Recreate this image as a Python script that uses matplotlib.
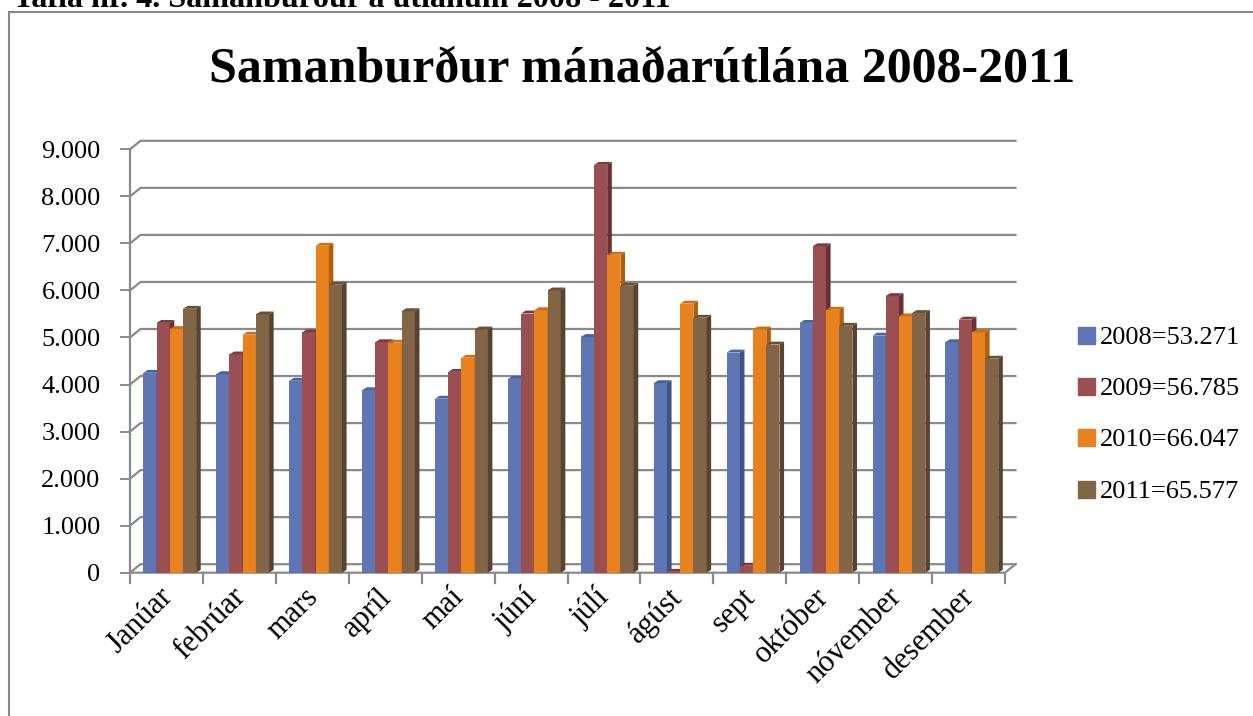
import numpy as np
import matplotlib
matplotlib.use('Agg')
import matplotlib.pyplot as plt
from matplotlib.patches import Polygon, Rectangle
from matplotlib.transforms import ScaledTranslation
from matplotlib.ticker import FuncFormatter

plt.rcParams['font.family'] = ['Liberation Serif', 'DejaVu Serif']

# data (loans per month)
months = ['Janúar', 'febrúar', 'mars', 'apríl', 'maí', 'júní',
          'júlí', 'ágúst', 'sept', 'október', 'nóvember', 'desember']
years = ['2008', '2009', '2010', '2011']
totals = ['53.271', '56.785', '66.047', '65.577']
v2008 = [4250, 4220, 4080, 3880, 3700, 4120, 5010, 4030, 4680, 5310, 5040, 4900]
v2009 = [5310, 4640, 5110, 4900, 4270, 5510, 8670, 20, 150, 6940, 5880, 5380]
v2010 = [5180, 5060, 6950, 4890, 4570, 5580, 6760, 5720, 5170, 5590, 5450, 5110]
v2011 = [5610, 5490, 6120, 5560, 5170, 6000, 6100, 5420, 4850, 5250, 5520, 4550]
series = [v2008, v2009, v2010, v2011]
yticks = np.arange(0, 9001, 1000)

front = ['#6076B4', '#9A5052', '#E8821F', '#826447']
side = ['#3E5283', '#6A3035', '#B35F0A', '#574330']
top = ['#4A62A0', '#7E3A3E', '#CC6E12', '#6A5035']
grid_c = '#8A8A8A'

W, H = 1253, 716
fig = plt.figure(figsize=(W / 100, H / 100), dpi=100)
ax = fig.add_axes([130 / W, (H - 572.7) / H, 875 / W, 451.6 / H])
ax.set_xlim(-0.5, 11.5)
ax.set_ylim(0, 9600)

px_x = 875 / 12
px_y = 451.6 / 9600
gx, gy = 10.5 / px_x, 8.5 / px_y   # back wall offset
bx, by = 4.6 / px_x, 2.9 / px_y    # bar depth

# back wall gridlines + floor
for v in yticks:
    ax.plot([-0.5, -0.5 + gx, 11.5 + gx], [v, v + gy, v + gy],
            color=grid_c, lw=1.6, clip_on=False, zorder=1)
ax.plot([-0.5, 11.5, 11.5 + gx], [0, 0, gy], color=grid_c, lw=1.6,
        clip_on=False, zorder=1)
for i in range(13):
    ax.plot([i - 0.5, i - 0.5], [0, -10 / px_y], color=grid_c, lw=1.6,
            clip_on=False, zorder=1)

# pseudo 3D bars
x = np.arange(len(months))
w = 0.181
for k, vals in enumerate(series):
    xs = x + 0.045 + (k - 1.5) * w
    ax.bar(xs, vals, w, color=front[k], zorder=3 + k)
    for xc, h in zip(xs, vals):
        x0, x1 = xc - w / 2, xc + w / 2
        ax.add_patch(Polygon([(x1, 0), (x1 + bx, by), (x1 + bx, h + by), (x1, h)],
                             closed=True, fc=side[k], ec='none', zorder=3 + k))
        ax.add_patch(Polygon([(x0, h), (x1, h), (x1 + bx, h + by), (x0 + bx, h + by)],
                             closed=True, fc=top[k], ec='none', zorder=3 + k))

for s in ['top', 'right', 'bottom']:
    ax.spines[s].set_visible(False)
ax.spines['left'].set_color(grid_c)
ax.spines['left'].set_linewidth(1.6)
ax.spines['left'].set_bounds(0, 9000)
ax.set_yticks(yticks)
ax.yaxis.set_major_formatter(FuncFormatter(lambda v, p: f'{int(v):,}'.replace(',', '.')))
ax.tick_params(axis='y', length=7.2, width=1.4, color=grid_c, pad=14, labelsize=19)
ax.set_xticks(x, months, rotation=45, ha='right')
ax.tick_params(axis='x', length=0, pad=7, labelsize=22)
for lbl in ax.get_xticklabels():
    lbl.set_transform(lbl.get_transform() + ScaledTranslation(0.12, 0, fig.dpi_scale_trans))

renderer = fig.canvas.get_renderer()


def fit(t, target):
    bb = t.get_window_extent(renderer)
    t.set_fontsize(t.get_fontsize() * target / bb.width)


title = fig.text(642.5 / W, 1 - 81.7 / H, 'Samanburður mánaðarútlána 2008-2011',
                 ha='center', va='baseline', fontweight='bold', fontsize=34)
fit(title, 865)
cap = fig.text(13 / W, 1 - 7 / H, 'Tafla nr. 4. Samanburður á útlánum 2008 - 2011',
               ha='left', va='baseline', fontweight='bold', fontsize=17)
fit(cap, 661)

# legend
for k in range(4):
    cy = 335.7 + 51.1 * k
    fig.patches.append(Rectangle((1078 / W, 1 - (cy + 8.5) / H), 17 / W, 17 / H,
                                 transform=fig.transFigure, color=front[k]))
    fig.text(1100 / W, 1 - (cy + 8.5) / H, f'{years[k]}={totals[k]}',
             va='baseline', ha='left', fontsize=19)

fig.patches.append(Rectangle((9 / W, -0.1), 1.2, (H - 12) / H + 0.1, fill=False,
                             ec='#878787', lw=1.5, transform=fig.transFigure))

fig.savefig('out.png', dpi=100)
